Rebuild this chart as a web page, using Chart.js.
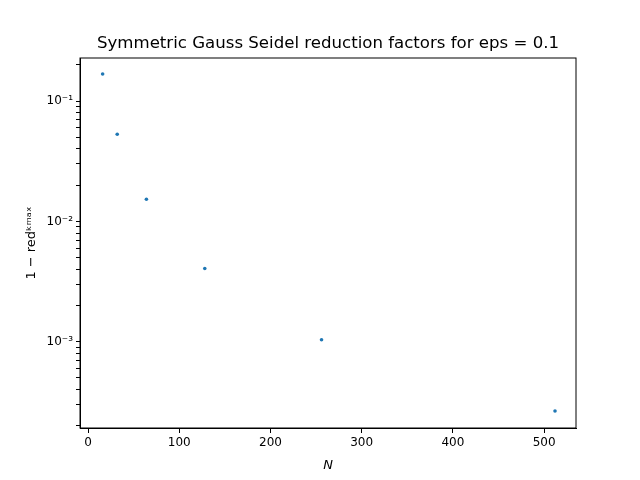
<!DOCTYPE html>
<html>
<head>
<meta charset="utf-8">
<script src="https://cdn.jsdelivr.net/npm/chart.js@4"></script>
<style>
  body { margin: 0; background: #fff; }
  #wrap { width: 640px; height: 480px; }
</style>
</head>
<body>
<div id="wrap"><canvas id="grafica"></canvas></div>
<script>
const titulo = 'Symmetric Gauss Seidel reduction factors for eps = 0.1';
const tamanos = [16, 32, 64, 128, 256, 512];
const reduccion = [0.168, 0.053, 0.0153, 0.00406, 0.00104, 0.000266];
const ticksX = [0, 100, 200, 300, 400, 500];
const potencias = [-4, -3, -2, -1];
const sup = { '-': '⁻', '0': '⁰', '1': '¹', '2': '²', '3': '³', '4': '⁴' };

const puntos = tamanos.map((n, i) => ({ x: n, y: reduccion[i] }));

new Chart(document.getElementById('grafica'), {
  type: 'scatter',
  data: {
    datasets: [{ data: puntos, backgroundColor: '#1f77b4', borderColor: '#1f77b4', pointRadius: 1.8, borderWidth: 0 }]
  },
  options: {
    responsive: true,
    maintainAspectRatio: false,
    animation: false,
    layout: { padding: { top: 58, right: 64, bottom: 3, left: 20 } },
    plugins: { legend: { display: false }, tooltip: { enabled: false } },
    scales: {
      x: {
        type: 'linear', min: -8.8, max: 535,
        afterBuildTicks: s => { s.ticks = ticksX.map(v => ({ value: v })); },
        ticks: { color: '#000', font: { family: 'DejaVu Sans', size: 12 }, maxRotation: 0 },
        grid: { drawOnChartArea: false, color: '#000', tickLength: 5 },
        border: { color: '#000' },
        title: { display: true, text: 'N', color: '#000', font: { family: 'DejaVu Sans', size: 13, style: 'italic' } }
      },
      y: {
        type: 'logarithmic', min: 0.000192, max: 0.228,
        afterBuildTicks: s => {
          const t = [];
          potencias.forEach(p => { for (let m = 1; m <= 9; m++) { const v = m * Math.pow(10, p); if (v >= s.min && v <= s.max) t.push({ value: v }); } });
          s.ticks = t;
        },
        ticks: {
          color: '#000', font: { family: 'DejaVu Sans', size: 12 }, autoSkip: false,
          callback: v => {
            const l = Math.log10(v);
            if (Math.abs(l - Math.round(l)) > 1e-6) return '';
            return '10' + String(Math.round(l)).split('').map(c => sup[c]).join('');
          }
        },
        grid: { drawOnChartArea: false, color: '#000', tickLength: 4 },
        border: { color: '#000' },
        title: { display: true, text: '1 − redᵏᵐᵃˣ', color: '#000', font: { family: 'DejaVu Sans', size: 13 } }
      }
    }
  },
  plugins: [{
    id: 'marco',
    afterDraw(c) {
      const a = c.chartArea, ctx = c.ctx;
      ctx.save(); ctx.strokeStyle = '#000'; ctx.lineWidth = 1;
      ctx.strokeRect(a.left, a.top, a.right - a.left, a.bottom - a.top);
      // titulo centrado sobre el area del grafico
      ctx.fillStyle = '#000';
      ctx.font = '16.6px "DejaVu Sans"';
      ctx.textAlign = 'center';
      ctx.textBaseline = 'bottom';
      ctx.fillText(titulo, (a.left + a.right) / 2, a.top - 6);
      ctx.restore();
    }
  }]
});
</script>
</body>
</html>
